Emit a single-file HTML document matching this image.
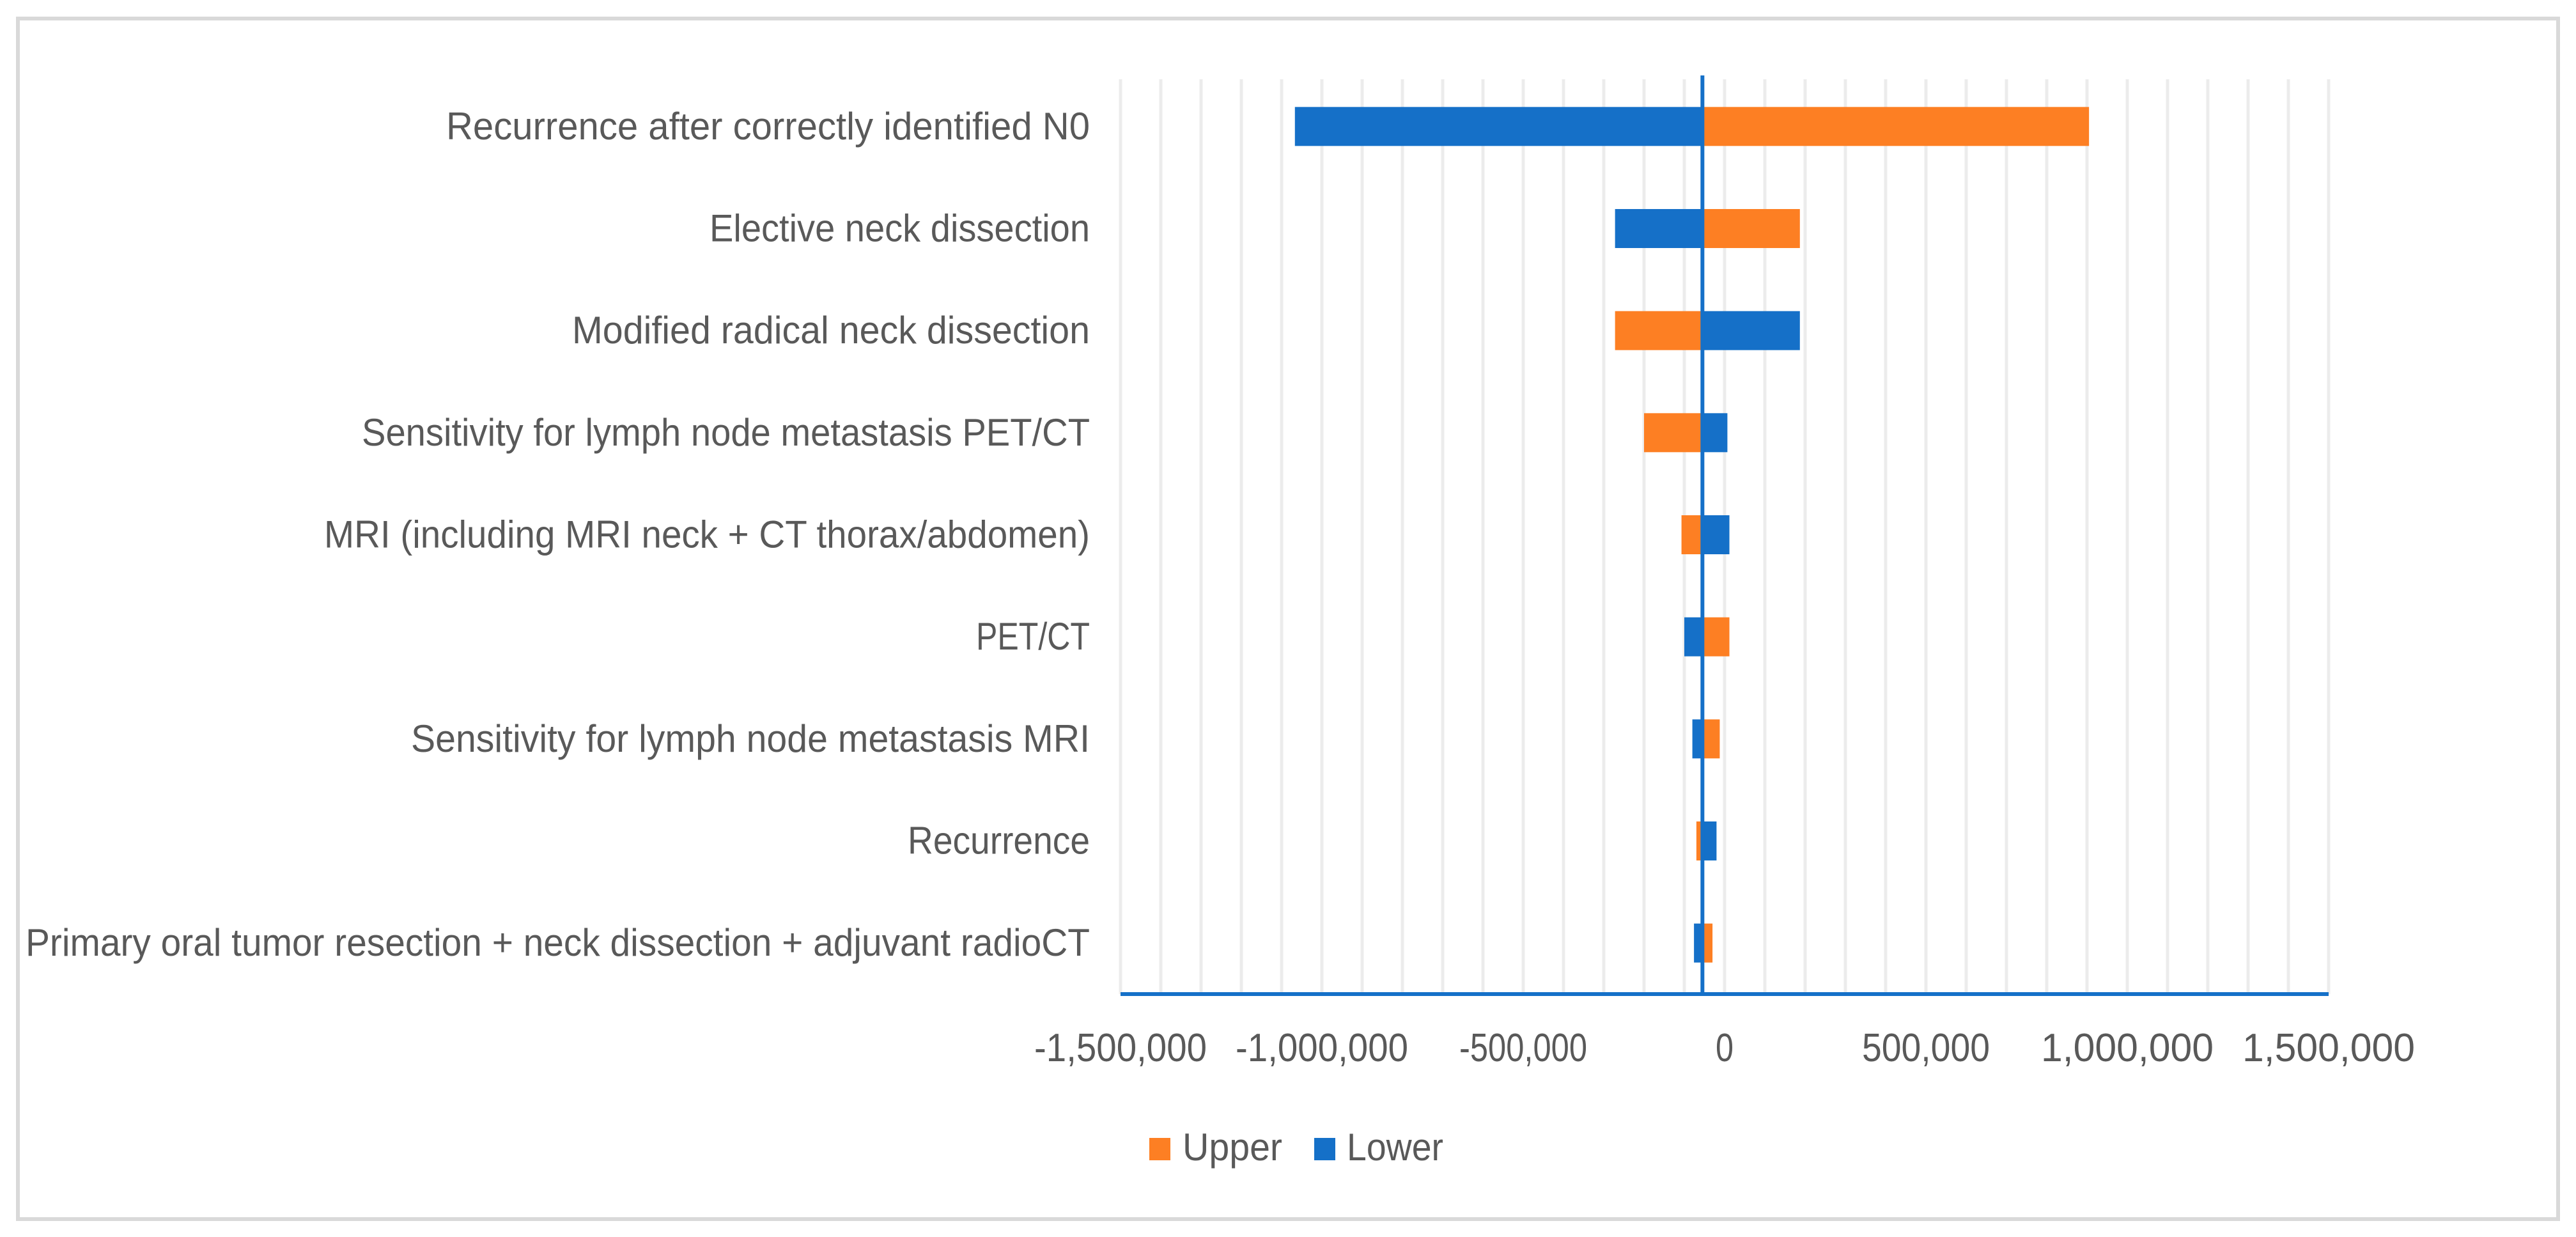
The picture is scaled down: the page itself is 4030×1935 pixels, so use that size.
<!DOCTYPE html>
<html><head><meta charset="utf-8"><style>
html,body{margin:0;padding:0;background:#fff;}
svg{display:block;}
text{font-family:"Liberation Sans",sans-serif;fill:#595959;}
</style></head><body>
<svg id="chart" width="4030" height="1935" viewBox="0 0 4030 1935" xmlns="http://www.w3.org/2000/svg">
<rect x="28" y="29" width="3974" height="1878" fill="#fff" stroke="#d9d9d9" stroke-width="6"/>
<g id="grid"></g><g id="bars"></g><g id="axes"></g><g id="labels"></g>
<g>
<g><rect x="1798" y="1780" width="33" height="35" fill="#fd7f23"/><text x="1850" y="1815" font-size="60" textLength="156" lengthAdjust="spacingAndGlyphs">Upper</text></g>
<g><rect x="2056" y="1780" width="33" height="35" fill="#1570c8"/><text x="2107" y="1815" font-size="60" textLength="151" lengthAdjust="spacingAndGlyphs">Lower</text></g>
</g>
</svg>
<script>
const categories=["Recurrence after correctly identified N0","Elective neck dissection","Modified radical neck dissection","Sensitivity for lymph node metastasis PET/CT","MRI (including MRI neck + CT thorax/abdomen)","PET/CT","Sensitivity for lymph node metastasis MRI","Recurrence","Primary oral tumor resection + neck dissection + adjuvant radioCT"];
const upperValues=[905000,187000,-272000,-200000,-107000,12000,-12000,-70000,-30000];
const lowerValues=[-1067000,-272000,187000,7000,12000,-100000,-80000,-20000,-76000];
const baseValue=-55000;
const tickValues=[-1500000,-1000000,-500000,0,500000,1000000,1500000];
const tickLabels=["-1,500,000","-1,000,000","-500,000","0","500,000","1,000,000","1,500,000"];
const labelWidths=[1007,595,810,1139,1198,178,1062,285,1665];
const tickLabelWidths=[270,270,200,28,200,270,270];

const NS="http://www.w3.org/2000/svg";
const X0=1753,X1=3643,VMIN=-1500000,VMAX=1500000,TOP=118,BOT=1555;
const band=(BOT-TOP)/categories.length;
function xScale(v){return X0+(v-VMIN)/(VMAX-VMIN)*(X1-X0);}
function yCenter(i){return TOP+band*(i+0.5);}
function mk(tag,attrs,parent){const e=document.createElementNS(NS,tag);for(const k in attrs)e.setAttribute(k,attrs[k]);parent.appendChild(e);return e;}
const grid=document.getElementById('grid'),bars=document.getElementById('bars'),axes=document.getElementById('axes'),labels=document.getElementById('labels');
for(let v=VMIN;v<=VMAX;v+=100000){
  const l=mk('line',{x1:xScale(v),x2:xScale(v),y1:TOP+6,y2:BOT,stroke:'#ececec','stroke-width':5},grid);
  
  
}
const bh=61;
function drawBar(v,color,name,i){
  const a=xScale(baseValue),b=xScale(v);
  const r=mk('rect',{x:Math.min(a,b),y:yCenter(i)-bh/2,width:Math.abs(b-a),height:bh,fill:color},bars);
  
  
}
categories.forEach((c,i)=>{
  drawBar(lowerValues[i],'#1570c8','bar-lower-'+(i+1),i);
  drawBar(upperValues[i],'#fd7f23','bar-upper-'+(i+1),i);
  const t=mk('text',{x:1705,y:yCenter(i)+20,'font-size':60,'text-anchor':'end',textLength:labelWidths[i],lengthAdjust:'spacingAndGlyphs'},labels);
  t.textContent=c;
  
  
});
const xa=mk('line',{x1:X0,x2:X1,y1:BOT,y2:BOT,stroke:'#1570c8','stroke-width':6},axes);


const va=mk('line',{x1:xScale(baseValue),x2:xScale(baseValue),y1:TOP,y2:BOT,stroke:'#1570c8','stroke-width':6},axes);


tickValues.forEach((v,i)=>{
  const t=mk('text',{x:xScale(v),y:1660,'font-size':62,'text-anchor':'middle',textLength:tickLabelWidths[i],lengthAdjust:'spacingAndGlyphs'},labels);
  t.textContent=tickLabels[i];
  
  
});
</script>
</body></html>
